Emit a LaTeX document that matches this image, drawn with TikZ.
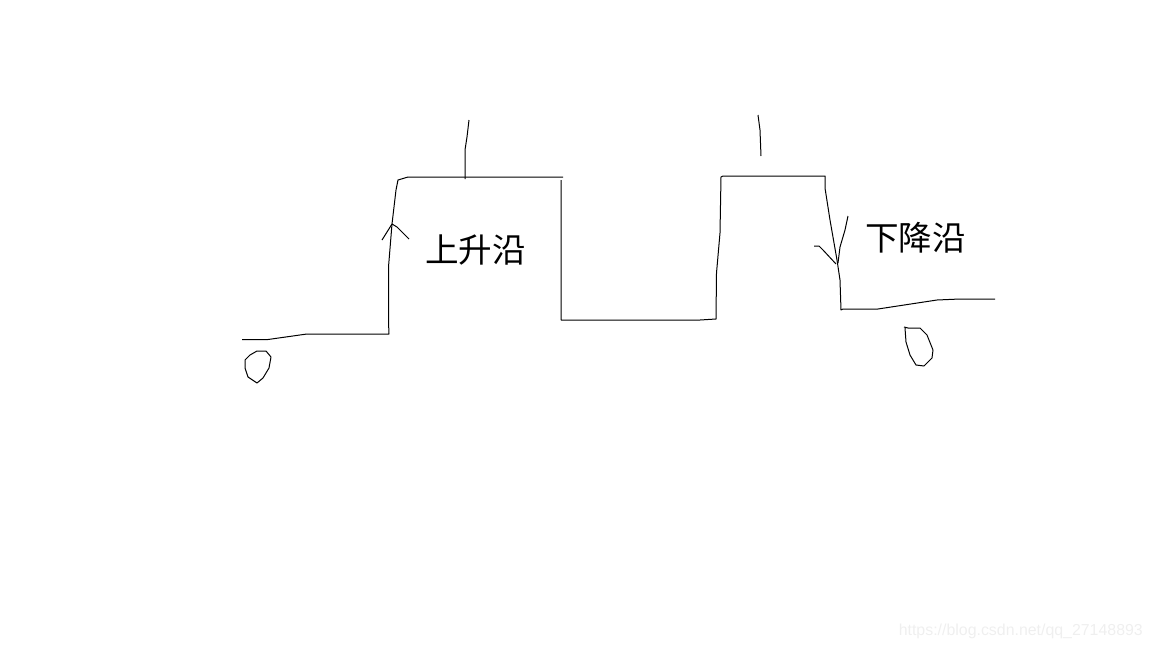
\documentclass[tikz,border=0pt]{standalone}
\usepackage{fontspec}
\setmainfont{Liberation Sans}
\newfontfamily\cjk{Noto Sans CJK SC}
\definecolor{markgray}{HTML}{EFEFEF}
\tikzset{
	pen/.style={line width=1pt, black, line join=round},
	edgelabel/.style={font=\cjk\fontsize{33.6}{34}\selectfont, inner sep=0pt},
	watermark/.style={font=\fontsize{15.9}{16}\selectfont, text=markgray, inner sep=0pt}
}
\begin{document}
\begin{tikzpicture}
			[x=1pt, y=-1pt]
			\useasboundingbox (0,0) rectangle (1152,648);
			\node[edgelabel] (rise) at (475.5,250) {上升沿};
			\node[edgelabel] (fall) at (915.5,238) {下降沿};
			\node[watermark, anchor=east] (mark) at (1143,631) {https://blog.csdn.net/qq\_27148893};
			
			\draw[pen] (242,339.5) -- (268,339.5) -- (307,334) -- (389,334) -- (388.5,322) -- (388.5,267) -- (392,224) -- (396,190) -- (398,180) -- (408,177) -- (563,177);
			\draw[pen] (561,180) -- (561,320) -- (700,320) -- (716,319) -- (716.5,273) -- (720,233) -- (721,177) -- (723,176) -- (825,176) -- (825,188) -- (830,220) -- (837,260) -- (840,280) -- (841,310) -- (843,309) -- (878,309) -- (937,300) -- (960,299) -- (995,299);
			
			\draw[pen] (469,120) -- (467,137) -- (465,150) -- (465,179);
			\draw[pen] (758,115) -- (760,130) -- (761,156);
			
			\draw[pen] (382,240) -- (392,224) -- (397,227) -- (409,239);
			\draw[pen] (848,216) -- (845,230) -- (840,247) -- (838,263);
			\draw[pen] (836,264) -- (823,250) -- (819,246) -- (814,246);
			
			\draw[pen] (245,360) -- (250,355) -- (257,351) -- (266,351) -- (271,357) -- (269,368) -- (263,378) -- (257,383) -- (248,377) -- (245,368) -- cycle;
			\draw[pen] (904,327) -- (908,328) -- (920,328) -- (927,335) -- (933,350) -- (932,358) -- (924,366) -- (916,365) -- (910,355) -- (906,342) -- (905,328);
		\end{tikzpicture}
\end{document}
